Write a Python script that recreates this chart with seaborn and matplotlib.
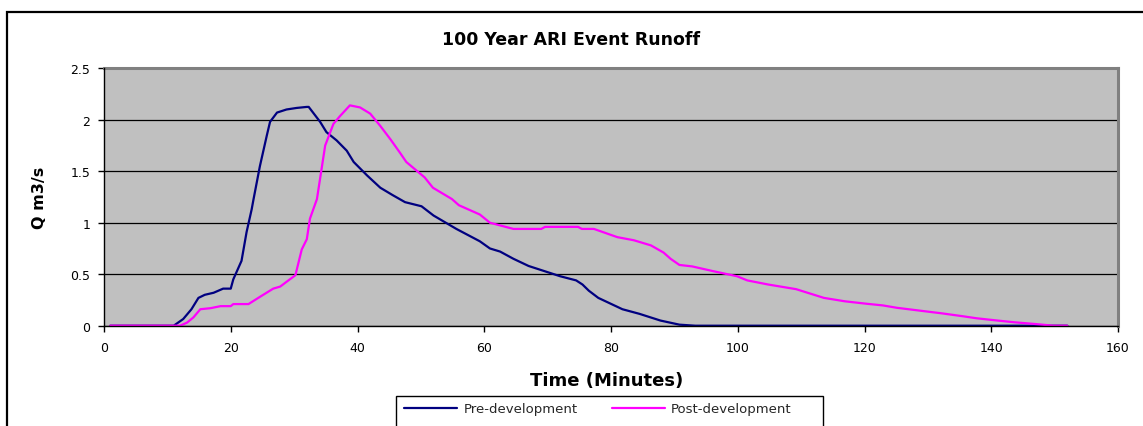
import matplotlib
matplotlib.use('Agg')
import numpy as np
import pandas as pd
import seaborn as sns
import matplotlib.pyplot as plt
from matplotlib.patches import Rectangle
from matplotlib.lines import Line2D

# ---- data ----
pre_t = [1, 11, 12.5, 13.8, 14.9, 15.9, 17.3, 18.8, 20, 20.4, 21.7, 22.5, 23.3, 23.6, 24.6,
         25.7, 26.2, 27.3, 28.8, 30.4, 32, 32.3, 34.1, 35.1, 36.7, 38.3, 39.4, 41.5, 43.6,
         45.5, 47.5, 50.1, 52, 55.6, 59.3, 60.9, 62.5, 64.6, 67, 70, 72, 74.5, 75.5, 76.5,
         78, 81.8, 84.5, 87.8, 90.8, 93.3, 152]
pre_q = [0, 0, 0.065, 0.16, 0.27, 0.30, 0.32, 0.36, 0.36, 0.45, 0.63, 0.91, 1.13, 1.23, 1.55,
         1.85, 1.98, 2.07, 2.10, 2.115, 2.125, 2.125, 1.98, 1.88, 1.80, 1.70, 1.59, 1.46, 1.34,
         1.27, 1.20, 1.16, 1.07, 0.94, 0.82, 0.75, 0.72, 0.65, 0.58, 0.52, 0.48, 0.44, 0.40, 0.34,
         0.27, 0.16, 0.115, 0.05, 0.01, 0, 0]

post_t = [1, 12, 13.1, 14.1, 15.2, 16.8, 18.4, 20, 20.4, 22.8, 24.6, 26.7, 27.8, 29.1, 30.2,
          31.2, 32, 32.5, 33.6, 34.4, 34.9, 36.2, 37.3, 38.8, 40.4, 42, 43.6, 45.2, 46.7, 47.7,
          50.6, 51.9, 54.9, 56, 59.3, 60.9, 64.6, 69, 69.6, 74.8, 75.4, 77.3, 81, 83.6, 86.3,
          88.3, 89.4, 90.8, 92.8, 96.1, 99.9, 101.5, 104.8, 109.2, 113.6, 116.9, 120.2, 122.9,
          125.1, 128.9, 132.2, 135.5, 137.7, 141, 143.7, 147, 149.8, 152]
post_q = [0, 0, 0.03, 0.08, 0.16, 0.17, 0.19, 0.19, 0.21, 0.21, 0.28, 0.36, 0.38, 0.44, 0.49,
          0.74, 0.84, 1.04, 1.23, 1.55, 1.75, 1.96, 2.04, 2.14, 2.12, 2.06, 1.94, 1.81, 1.68, 1.59,
          1.44, 1.34, 1.23, 1.17, 1.08, 1.00, 0.94, 0.94, 0.96, 0.96, 0.94, 0.94, 0.86, 0.83, 0.78,
          0.71, 0.65, 0.59, 0.576, 0.53, 0.48, 0.44, 0.40, 0.355, 0.27, 0.237, 0.214, 0.197,
          0.174, 0.145, 0.12, 0.092, 0.072, 0.05, 0.033, 0.016, 0.0, 0.0]

series_names = ['Pre-development', 'Post-development']
series_colors = ['#000080', '#FF00FF']
x_ticks = [0, 20, 40, 60, 80, 100, 120, 140, 160]
y_ticks = [0, 0.5, 1, 1.5, 2, 2.5]
y_tick_labels = ['0', '0.5', '1', '1.5', '2', '2.5']
title = '100 Year ARI Event Runoff'
x_label = 'Time (Minutes)'
y_label = 'Q m3/s'

df = pd.concat([
    pd.DataFrame({'t': pre_t, 'q': pre_q, 'series': series_names[0]}),
    pd.DataFrame({'t': post_t, 'q': post_q, 'series': series_names[1]}),
], ignore_index=True)

sns.set_theme(style='white')
plt.rcParams['font.family'] = ['DejaVu Sans']

W, H = 1143, 427
fig = plt.figure(figsize=(W / 100, H / 100), dpi=100)
ax = fig.add_axes([104 / W, 1 - 326.7 / H, (1118 - 104) / W, (326.7 - 69.3) / H])

palette = dict(zip(series_names, series_colors))
sns.lineplot(data=df, x='t', y='q', hue='series', palette=palette, ax=ax,
             linewidth=1.6, legend=False, sort=False, estimator=None)

ax.set_facecolor('#C0C0C0')
ax.set_xlim(0, 160)
ax.set_ylim(0, 2.5)
ax.set_xticks(x_ticks)
ax.set_xticklabels([str(v) for v in x_ticks])
ax.set_yticks(y_ticks)
ax.set_yticklabels(y_tick_labels)
ax.set_xlabel('')
ax.set_ylabel('')
ax.yaxis.grid(True, color='black', linewidth=0.9)
ax.xaxis.grid(False)
ax.set_axisbelow(True)

for s in ['top', 'right']:
    ax.spines[s].set_color('#808080')
    ax.spines[s].set_linewidth(2.2)
for s in ['left', 'bottom']:
    ax.spines[s].set_color('black')
    ax.spines[s].set_linewidth(1.0)
    ax.spines[s].set_zorder(5)

ax.tick_params(axis='both', which='major', bottom=True, left=True, direction='out',
               length=4, width=1, color='black', labelsize=9, labelcolor='black')
ax.tick_params(axis='x', pad=7)
ax.tick_params(axis='y', pad=6)

fig.text(0.5, 1 - 40 / H, title, ha='center', va='center', fontsize=12.5,
         fontweight='bold', color='black')
fig.text(607 / W, 1 - 381 / H, x_label, ha='center', va='center', fontsize=13,
         fontweight='bold', color='black')
fig.text(40 / W, 1 - 198 / H, y_label, ha='center', va='center', rotation=90,
         fontsize=11.5, fontweight='bold', color='black')

# outer chart border (extends past right and bottom edges, as in the reference)
fig.patches.append(Rectangle((7 / W, -0.2), 1.2, 1.2 - 12.7 / H, transform=fig.transFigure,
                             fill=False, edgecolor='black', linewidth=1.6, clip_on=False))

handles = [Line2D([], [], color=c, linewidth=1.6) for c in series_colors]
leg = fig.legend(handles, series_names, loc='center left', bbox_to_anchor=(404 / W, 1 - 410 / H),
                 ncol=2, frameon=False, fontsize=9.5, handlelength=4.0, handletextpad=0.5,
                 columnspacing=2.6, borderpad=0, borderaxespad=0)
fig.patches.append(Rectangle((396 / W, -0.2), (823 - 396) / W, 0.2 + 1 - 397 / H,
                             transform=fig.transFigure, fill=False, edgecolor='black',
                             linewidth=1.0, clip_on=False))

fig.savefig('out.png', dpi=100)
